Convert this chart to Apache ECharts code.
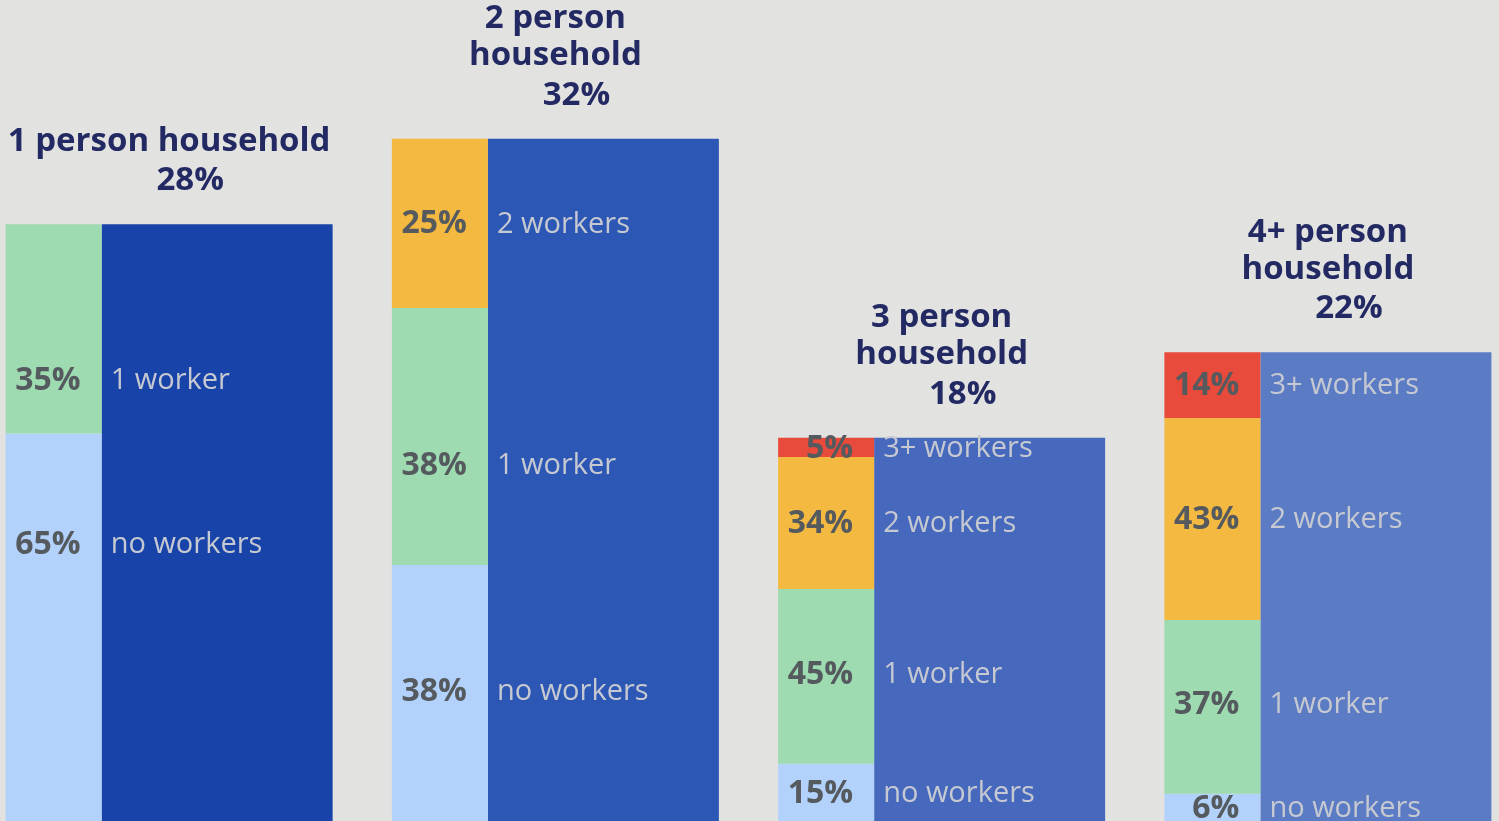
<!DOCTYPE html>
<html>
<head>
<meta charset="utf-8" />
<title>Households by number of workers</title>
<script src="https://cdn.jsdelivr.net/npm/echarts@6/dist/echarts.min.js"></script>
</head>
<body style="margin:0;background:#e2e2e0;">
<div id="main" style="width:1499px;height:821px;"></div>
<script type="text/javascript">
var titles = ['1 person household', '2 person\nhousehold', '3 person\nhousehold', '4+ person\nhousehold'];
var householdShare = [28, 32, 18, 22];
var workerTypes = ['no workers', '1 worker', '2 workers', '3+ workers'];
// share of each household size by number of workers (%), null = no segment
var noWorkers = [65, 38, 15, 6];
var oneWorker = [35, 38, 45, 37];
var twoWorkers = [null, 25, 34, 43];
var threeWorkers = [null, null, 5, 14];

var segColors = ['#b2d2fb', '#9edbb1', '#f4b940', '#e84a3b'];
var wideColors = ['#1844aa', '#2c57b4', '#4669bd', '#5b7cc4'];
// labels in the first two groups sit off-centre in the original
var labelNudge = { '0-0': -83, '0-1': 52, '1-0': -2, '1-1': 29, '2-1': -2, '3-1': -2 };

var chartDom = document.getElementById('main');
var myChart = echarts.init(chartDom);

var segs = [noWorkers, oneWorker, twoWorkers, threeWorkers];
var sums = householdShare.map(function (t, g) {
  var s = 0;
  segs.forEach(function (arr) { if (arr[g] != null) s += arr[g]; });
  return s;
});

function segData(k) {
  return segs[k].map(function (v, g) {
    if (v == null) return null;
    var nudge = labelNudge[g + '-' + k];
    return {
      value: householdShare[g] * v / sums[g],
      pct: v,
      label: { offset: [0, nudge == null ? 1 : nudge] }
    };
  });
}

var series = [];
// second (hidden) axis: solid wide bars, one piece per household size
series.push({
  name: 'spacer',
  type: 'bar',
  xAxisIndex: 1,
  stack: 'spacer',
  barWidth: 96,
  barGap: '0%',
  itemStyle: { color: 'rgba(0,0,0,0)' },
  silent: true,
  data: householdShare
});
series.push({
  name: 'household share',
  type: 'bar',
  xAxisIndex: 1,
  stack: 'bg',
  barWidth: 231,
  barGap: '0%',
  silent: true,
  data: householdShare.map(function (v, g) {
    return { value: v, itemStyle: { color: wideColors[g] } };
  })
});
// first axis: narrow stacked shares and transparent label pieces over the wide bars
workerTypes.forEach(function (name, k) {
  series.push({
    name: name,
    type: 'bar',
    stack: 'narrow',
    barWidth: 96,
    barGap: '0%',
    itemStyle: { color: segColors[k] },
    label: {
      show: true,
      position: 'insideRight',
      distance: 21,
      formatter: function (p) { return p.data.pct + '%'; },
      fontFamily: 'Open Sans',
      fontWeight: 'bold',
      fontSize: 32,
      color: '#555a5f'
    },
    data: segData(k)
  });
});
workerTypes.forEach(function (name, k) {
  series.push({
    name: name + ' label',
    type: 'bar',
    stack: 'wide',
    barWidth: 231,
    barGap: '0%',
    itemStyle: { color: 'rgba(0,0,0,0)' },
    label: {
      show: true,
      position: 'insideLeft',
      distance: 9,
      formatter: name,
      fontFamily: 'Open Sans',
      fontSize: 29,
      color: '#c6c9d1'
    },
    data: segData(k)
  });
});
series.push({
  name: 'titles',
  type: 'scatter',
  symbolSize: 1,
  itemStyle: { color: 'rgba(0,0,0,0)', opacity: 1 },
  label: {
    show: true,
    position: 'top',
    distance: 22,
    align: 'center',
    formatter: function (p) {
      return titles[p.dataIndex] + '\n{p|' + householdShare[p.dataIndex] + '%}';
    },
    fontFamily: 'Open Sans',
    fontWeight: 'bold',
    fontSize: 33,
    lineHeight: 37,
    color: '#232a63',
    rich: {
      p: {
        fontFamily: 'Open Sans',
        fontWeight: 'bold',
        fontSize: 33,
        lineHeight: 42,
        color: '#232a63',
        padding: [0, 0, 0, 42]
      }
    }
  },
  data: householdShare.map(function (v, g) { return [g, v]; })
});

var option = {
  animation: false,
  backgroundColor: '#e2e2e0',
  grid: { left: -24, right: -22, top: 0, bottom: -1, outerBoundsMode: 'none', containLabel: false },
  xAxis: [
    { type: 'category', data: titles, show: false },
    { type: 'category', data: titles, show: false }
  ],
  yAxis: {
    type: 'value',
    min: 0,
    max: 38.5,
    show: false
  },
  series: series
};

option && myChart.setOption(option);
</script>
</body>
</html>
